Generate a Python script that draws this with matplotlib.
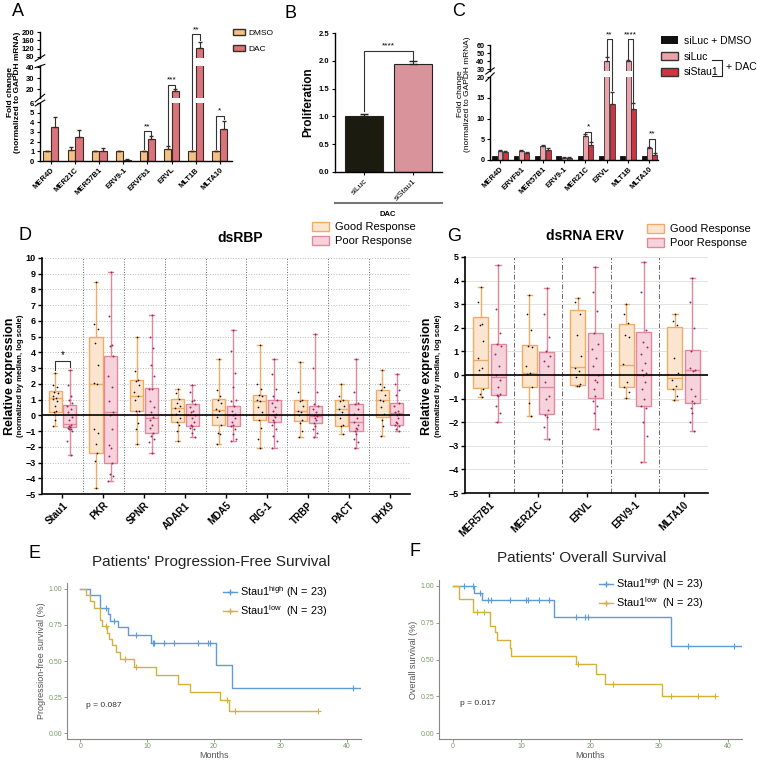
import numpy as np
import matplotlib
matplotlib.use("Agg")
import matplotlib.pyplot as plt
from matplotlib.patches import Patch
from matplotlib.lines import Line2D

plt.rcParams['font.family'] = ['Liberation Sans', 'DejaVu Sans']

# ---------------- data ----------------
# A
a_cats = ['MER4D', 'MER21C', 'MER57B1', 'ERV9-1', 'ERVFb1', 'ERVL', 'MLT1B', 'MLTA10']
a_dmso = [1.0, 1.1, 1.0, 1.0, 1.0, 1.2, 1.0, 1.0]
a_dmso_err = [0.08, 0.3, 0.08, 0.08, 0.05, 0.35, 0.08, 0.05]
a_dac = [3.5, 2.45, 1.05, 0.15, 2.3, 18, 125, 3.35]
a_dac_err = [1.1, 0.8, 0.25, 0.03, 0.25, 2, 25, 0.8]

# B
b_groups = ['siLuc', 'siStau1']
b_vals = [1.0, 1.95]
b_err = [0.04, 0.04]

# C
c_cats = ['MER4D', 'ERVFb1', 'MER57B1', 'ERV9-1', 'MER21C', 'ERVL', 'MLT1B', 'MLTA10']
c_dmso = [1, 1, 1, 1, 1, 1, 1, 1]
c_siluc = [2.2, 2.2, 3.3, 0.6, 5.8, 40, 40, 2.9]
c_siluc_err = [0.25, 0.15, 0.2, 0.05, 0.4, 5, 1, 0.3]
c_sistau = [1.9, 1.6, 2.3, 0.6, 3.5, 13.5, 12.3, 1.3]
c_sistau_err = [0.3, 0.3, 0.5, 0.1, 0.9, 3, 1.5, 0.3]

# D  (whislo, q1, med, q3, whishi)
d_cats = ['Stau1', 'PKR', 'SPNR', 'ADAR1', 'MDA5', 'RIG-1', 'TRBP', 'PACT', 'DHX9']
d_good = [(-0.7, 0.2, 1.1, 1.55, 2.7), (-4.6, -2.4, 2.0, 5.0, 8.5), (-1.85, 0.25, 1.2, 2.25, 5.0),
          (-1.6, -0.4, 0.45, 1.05, 1.7), (-1.8, -0.6, 0.35, 1.05, 3.6), (-2.1, -0.3, 0.9, 1.3, 4.5),
          (-1.35, -0.35, 0.3, 0.95, 3.4), (-1.2, -0.65, 0.4, 1.0, 2.0), (-1.3, -0.1, 1.0, 1.6, 2.9)]
d_poor = [(-2.5, -0.75, -0.55, 0.65, 2.85), (-4.2, -3.05, 0.2, 3.75, 9.1), (-2.4, -1.1, -0.2, 1.75, 6.4),
          (-1.4, -0.7, 0.05, 0.75, 1.95), (-1.65, -0.7, 0.05, 0.6, 5.4), (-2.1, -0.4, 0.0, 1.0, 3.6),
          (-1.35, -0.5, -0.05, 0.6, 5.2), (-2.1, -1.0, -0.4, 0.75, 3.55), (-1.0, -0.6, 0.15, 0.8, 2.65)]
d_good_pts = [
    [2.7, 1.95, 1.8, 1.5, 1.4, 1.2, 1.1, 1.05, 0.9, 0.6, 0.3, 0.2, -0.3, -0.7],
    [8.5, 5.8, 5.5, 4.6, 3.2, 2.05, 2.0, -0.9, -1.1, -1.8, -2.4, -2.9, -4.6],
    [5.0, 2.8, 2.25, 2.2, 1.9, 1.5, 1.2, 1.0, 0.3, 0.25, -0.5, -0.9, -1.85],
    [1.7, 1.4, 1.05, 0.8, 0.6, 0.45, 0.3, 0.1, -0.2, -0.4, -0.6, -1.0, -1.6],
    [3.6, 1.6, 1.2, 1.0, 0.8, 0.4, 0.3, -0.1, -0.6, -1.1, -1.2, -1.8],
    [4.5, 2.0, 1.7, 1.3, 1.2, 1.0, 0.9, 0.5, 0.2, -0.3, -0.8, -1.5, -2.1],
    [3.4, 1.5, 1.0, 0.9, 0.6, 0.3, 0.2, 0.0, -0.3, -0.5, -1.0, -1.35],
    [2.0, 1.2, 1.0, 0.9, 0.6, 0.4, 0.2, -0.2, -0.6, -0.7, -1.2],
    [2.9, 2.0, 1.8, 1.6, 1.3, 1.0, 0.9, 0.5, 0.1, -0.3, -0.7, -1.3]]
d_poor_pts = [
    [2.85, 1.9, 1.2, 1.0, 0.8, 0.6, 0.4, 0.2, -0.1, -0.3, -0.6, -0.7, -0.75, -0.8, -0.85, -0.9, -1.0, -1.6, -2.5],
    [9.1, 6.3, 4.5, 4.4, 3.8, 2.5, 1.8, 0.9, 0.2, 0.0, -0.9, -1.9, -2.1, -2.6, -3.0, -3.7, -3.85, -4.2],
    [6.4, 5.0, 4.3, 3.2, 2.5, 1.7, 1.65, 0.9, 0.5, 0.2, -0.1, -0.3, -0.6, -0.8, -1.1, -1.3, -1.5, -1.7, -2.4],
    [1.95, 1.5, 1.0, 0.9, 0.7, 0.5, 0.3, 0.2, 0.0, -0.2, -0.4, -0.6, -0.7, -0.8, -0.9, -1.1, -1.4],
    [5.4, 4.1, 2.7, 1.8, 1.0, 0.9, 0.6, 0.3, 0.1, 0.0, -0.2, -0.4, -0.6, -0.7, -0.9, -1.2, -1.5, -1.65],
    [3.6, 2.6, 1.7, 1.2, 1.0, 0.8, 0.5, 0.3, 0.1, 0.0, -0.1, -0.3, -0.4, -0.6, -0.9, -1.3, -1.6, -2.1],
    [5.2, 3.0, 1.5, 0.7, 0.6, 0.4, 0.2, 0.0, -0.05, -0.2, -0.3, -0.5, -0.7, -0.9, -1.1, -1.35],
    [3.55, 1.5, 0.8, 0.7, 0.4, 0.1, -0.2, -0.4, -0.6, -0.8, -0.9, -1.0, -1.2, -1.5, -1.7, -2.1],
    [2.65, 2.0, 1.6, 1.3, 0.8, 0.6, 0.3, 0.2, 0.1, 0.0, -0.2, -0.4, -0.5, -0.6, -0.7, -0.9, -1.0]]

# G
g_cats = ['MER57B1', 'MER21C', 'ERVL', 'ERV9-1', 'MLTA10']
g_good = [(-0.92, -0.55, 0.62, 2.45, 3.75), (-1.72, -0.5, 0.1, 1.27, 3.4), (-0.47, -0.42, 0.35, 2.74, 3.27),
          (-0.97, -0.5, 0.42, 2.17, 3.0), (-1.06, -0.6, -0.13, 2.05, 2.58)]
g_poor = [(-2.0, -0.85, -0.1, 1.3, 4.65), (-2.7, -1.67, -0.5, 0.96, 3.7), (-2.3, -0.96, 0.0, 1.8, 4.56),
          (-3.69, -1.31, 0.0, 1.84, 4.77), (-2.36, -1.17, 0.2, 1.05, 4.1)]
g_good_pts = [
    [3.75, 3.1, 2.15, 2.1, 1.45, 0.7, 0.3, 0.2, -0.6, -0.8, -0.92],
    [3.4, 2.6, 1.9, 1.25, 1.2, 0.4, 0.1, 0.05, -0.5, -1.2, -1.72],
    [3.27, 3.1, 2.6, 1.7, 0.8, 0.3, 0.15, -0.1, -0.4, -0.45, -0.47],
    [3.0, 2.6, 2.2, 1.7, 1.6, 0.45, -0.3, -0.5, -0.7, -0.97],
    [2.58, 2.3, 2.1, 0.7, 0.1, -0.2, -0.45, -0.6, -0.9, -1.06]]
g_poor_pts = [
    [4.65, 2.8, 1.8, 1.3, 1.25, 0.9, 0.4, 0.0, -0.2, -0.5, -0.8, -0.85, -0.9, -1.3, -1.6, -2.0],
    [3.7, 2.6, 1.6, 1.0, 0.8, 0.6, 0.4, -0.3, -0.9, -1.0, -1.5, -1.7, -1.8, -2.2, -2.7],
    [4.56, 3.5, 2.7, 1.8, 1.3, 1.1, 0.7, 0.4, 0.0, -0.2, -0.3, -0.6, -0.9, -1.1, -1.3, -1.6, -2.3],
    [4.77, 3.5, 1.9, 1.4, 1.2, 0.9, 0.5, 0.2, 0.1, 0.0, -0.3, -0.6, -1.0, -1.3, -1.4, -2.0, -2.6, -3.69],
    [4.1, 3.1, 2.0, 1.0, 0.2, 0.3, 0.15, -0.6, -0.9, -1.1, -1.2, -1.4, -1.6, -2.0, -2.36]]

# E  (Kaplan-Meier steps)
e_hi_t = [0, 1.5, 2.9, 4.1, 4.5, 5.6, 7.2, 10.6, 20.4, 22.8]
e_hi_s = [1.0, 0.957, 0.87, 0.826, 0.78, 0.733, 0.68, 0.628, 0.472, 0.316]
e_hi_cens = [3.8, 5.1, 8.3, 10.9, 11.1, 12.6, 14.0, 17.7, 19.1, 19.5, 40.9]
e_hi_end = 42.1
e_lo_t = [0, 0.9, 1.4, 2.0, 3.0, 3.3, 4.0, 4.3, 4.7, 5.3, 6.0, 8.0, 11.3, 14.7, 16.5, 21.0, 22.3]
e_lo_s = [1.0, 0.957, 0.913, 0.87, 0.783, 0.739, 0.696, 0.652, 0.609, 0.565, 0.511, 0.459, 0.402,
          0.344, 0.287, 0.23, 0.155]
e_lo_cens = [3.8, 6.7, 8.3, 22.0, 23.2, 35.7]
e_lo_end = 35.7

# F
f_hi_t = [0, 3.1, 4.3, 14.8, 31.8]
f_hi_s = [1.0, 0.955, 0.905, 0.79, 0.595]
f_hi_cens = [1.6, 3.0, 4.0, 5.1, 5.5, 8.4, 10.6, 11.0, 12.6, 14.0, 17.9, 19.2, 19.7, 34.3, 40.9]
f_hi_end = 42.1
f_lo_t = [0, 0.9, 3.0, 5.4, 6.1, 6.5, 8.3, 8.5, 18.0, 20.8, 22.1, 30.4]
f_lo_s = [1.0, 0.913, 0.826, 0.73, 0.69, 0.63, 0.575, 0.525, 0.467, 0.40, 0.336, 0.25]
f_lo_cens = [3.6, 4.6, 18.3, 23.3, 31.7, 35.7, 38.1]
f_lo_end = 38.1

# ---------------- figure helpers ----------------
W, H = 757, 763
fig = plt.figure(figsize=(W / 100, H / 100), dpi=100)


def pax(x0, y0, x1, y1):
    return fig.add_axes([x0 / W, 1 - y1 / H, (x1 - x0) / W, (y1 - y0) / H])


def ftext(x, y, s, **kw):
    fig.text(x / W, 1 - y / H, s, **kw)


def fline(xs, ys, **kw):
    fig.add_artist(Line2D([x / W for x in xs], [1 - y / H for y in ys], transform=fig.transFigure, **kw))


def fpt(ax, x, y):
    return fig.transFigure.inverted().transform(ax.transData.transform((x, y)))


def bracket(pts, label, fs=6, dy=1.0):
    xy = np.array([fpt(a, x, y) for a, x, y in pts])
    fig.add_artist(Line2D(xy[:, 0], xy[:, 1], transform=fig.transFigure, color='#333333', lw=0.8))
    fig.text(xy[1:3, 0].mean(), xy[1, 1] + dy / H, label, ha='center', va='bottom', fontsize=fs)


def clean(ax, bottom=True):
    ax.spines['top'].set_visible(False)
    ax.spines['right'].set_visible(False)
    ax.spines['bottom'].set_visible(bottom)
    for s in ['left', 'bottom']:
        ax.spines[s].set_linewidth(1.0)
    ax.tick_params(length=2.5, width=0.8, pad=1.5)


def brk(ax, where):
    y = 0 if where == 'bottom' else 1
    ax.plot([-0.025, 0.025], [y - 0.05 if where == 'top' else y - 0.12, y + 0.05 if where == 'top' else y + 0.12],
            transform=ax.transAxes, color='black', lw=0.8, clip_on=False)


# ---------------- panel A ----------------
c_dmso_col, c_dac_col, edge = '#f3c184', '#d9747d', '#3a2b22'
xa = np.arange(len(a_cats))
segA = [pax(40, 103, 232, 161), pax(40, 66, 232, 98), pax(40, 32, 232, 58)]
limsA = [(0, 6), (12, 41), (75, 200)]
ticksA = [range(0, 7), [20, 30, 40], [80, 120, 160, 200]]
for i, (ax, lim, tk) in enumerate(zip(segA, limsA, ticksA)):
    ax.bar(xa - 0.16, a_dmso, 0.3, color=c_dmso_col, edgecolor=edge, lw=0.8)
    ax.bar(xa + 0.16, a_dac, 0.3, color=c_dac_col, edgecolor=edge, lw=0.8)
    ax.errorbar(xa - 0.16, a_dmso, yerr=[np.zeros(8), a_dmso_err], fmt='none', ecolor=edge, elinewidth=0.8, capsize=1.5)
    ax.errorbar(xa + 0.16, a_dac, yerr=[np.zeros(8), a_dac_err], fmt='none', ecolor=edge, elinewidth=0.8, capsize=1.5)
    ax.set_xlim(-0.45, 7.5)
    ax.set_ylim(lim)
    ax.set_yticks(list(tk))
    clean(ax, bottom=(i == 0))
    for lab in ax.get_yticklabels():
        lab.set_fontsize(5.5)
        lab.set_fontweight('bold')
    if i == 0:
        ax.set_xticks(xa)
        ax.set_xticklabels(a_cats, rotation=45, ha='right', rotation_mode='anchor', fontsize=5.5, fontweight='bold')
        brk(ax, 'top')
    else:
        ax.set_xticks([])
        brk(ax, 'bottom')
        if i == 1:
            brk(ax, 'top')
ftext(14, 92, 'Fold change\n(normalized to GAPDH mRNA)', rotation=90, ha='center', va='center',
      fontsize=6, fontweight='bold', linespacing=1.1)
a0, a1, a2 = segA
bracket([(a0, 3.84, 1.2), (a0, 3.84, 3.1), (a0, 4.16, 3.1), (a0, 4.16, 2.7)], '**')
bracket([(a0, 4.84, 1.7), (a1, 4.84, 24), (a1, 5.16, 24), (a1, 5.16, 21)], '***')
bracket([(a0, 5.84, 1.2), (a2, 5.84, 190), (a2, 6.16, 190), (a2, 6.16, 160)], '**')
bracket([(a0, 6.84, 1.2), (a0, 6.84, 4.7), (a0, 7.16, 4.7), (a0, 7.16, 4.3)], '*')
fig.legend([Patch(facecolor=c_dmso_col, edgecolor=edge), Patch(facecolor=c_dac_col, edgecolor=edge)],
           ['DMSO', 'DAC'], loc='upper left', bbox_to_anchor=(233 / W, 1 - 29 / H), frameon=False,
           fontsize=6, handlelength=1.4, handleheight=0.8, labelspacing=0.9, borderpad=0, borderaxespad=0,
           handletextpad=0.5)

# ---------------- panel B ----------------
axB = pax(335, 33, 442, 172)
xb = np.arange(2)
axB.bar(xb, b_vals, 0.78, color=['#1c1b10', '#d9939a'], edgecolor='#222222', lw=0.8)
axB.errorbar(xb, b_vals, yerr=[np.zeros(2), b_err], fmt='none', ecolor='#222222', elinewidth=0.8, capsize=3)
axB.set_xlim(-0.59, 1.59)
axB.set_ylim(0, 2.5)
axB.set_yticks(np.arange(0, 2.51, 0.5))
axB.set_yticklabels(['%.1f' % v for v in np.arange(0, 2.51, 0.5)], fontsize=5.5, fontweight='bold')
axB.set_xticks(xb)
axB.set_xticklabels(b_groups, rotation=45, ha='right', rotation_mode='anchor', fontsize=6)
axB.set_ylabel('Proliferation', fontsize=8.5, fontweight='bold', labelpad=3)
clean(axB)
bracket([(axB, 0, 1.1), (axB, 0, 2.18), (axB, 1, 2.18), (axB, 1, 2.02)], '****', fs=6)
fline([335, 442], [203, 203], color='#777777', lw=1.5)
ftext(388, 214, 'DAC', ha='center', va='center', fontsize=5.5, fontweight='bold')

# ---------------- panel C ----------------
col_blk, col_pink, col_red = '#111111', '#eba2aa', '#cf3441'
xc = np.arange(len(c_cats))
segC = [pax(490, 77, 658, 160), pax(490, 45, 658, 71)]
limsC = [(0, 20), (27.5, 60)]
ticksC = [[0, 5, 10, 15, 20], [30, 40, 50, 60]]
for i, (ax, lim, tk) in enumerate(zip(segC, limsC, ticksC)):
    ax.bar(xc - 0.25, c_dmso, 0.23, color=col_blk, edgecolor='#111111', lw=0.6)
    ax.bar(xc, c_siluc, 0.23, color=col_pink, edgecolor='#333333', lw=0.6)
    ax.bar(xc + 0.25, c_sistau, 0.23, color=col_red, edgecolor='#333333', lw=0.6)
    ax.errorbar(xc, c_siluc, yerr=[np.zeros(8), c_siluc_err], fmt='none', ecolor='#333333', elinewidth=0.7, capsize=1.2)
    ax.errorbar(xc + 0.25, c_sistau, yerr=[np.zeros(8), c_sistau_err], fmt='none', ecolor='#333333', elinewidth=0.7, capsize=1.2)
    ax.set_xlim(-0.47, 7.4)
    ax.set_ylim(lim)
    ax.set_yticks(tk)
    clean(ax, bottom=(i == 0))
    for lab in ax.get_yticklabels():
        lab.set_fontsize(5.2)
        lab.set_fontweight('bold')
    if i == 0:
        ax.set_xticks(xc)
        ax.set_xticklabels(c_cats, rotation=45, ha='right', rotation_mode='anchor', fontsize=5.5, fontweight='bold')
        brk(ax, 'top')
    else:
        ax.set_xticks([])
        brk(ax, 'bottom')
ftext(464, 94, 'Fold change\n(normalized to GAPDH mRNA)', rotation=90, ha='center', va='center',
      fontsize=6, linespacing=1.1)
c0, c1 = segC
bracket([(c0, 4.0, 6.3), (c0, 4.0, 6.8), (c0, 4.25, 6.8), (c0, 4.25, 4.6)], '*')
bracket([(c1, 5.0, 46), (c1, 5.0, 67), (c1, 5.25, 67), (c0, 5.25, 16.8)], '**')
bracket([(c1, 6.0, 42), (c1, 6.0, 67), (c1, 6.25, 67), (c0, 6.25, 14.0)], '****')
bracket([(c0, 7.0, 3.3), (c0, 7.0, 5.1), (c0, 7.25, 5.1), (c0, 7.25, 1.8)], '**')
fig.legend([Patch(facecolor=col_blk), Patch(facecolor=col_pink, edgecolor='#333333'),
            Patch(facecolor=col_red, edgecolor='#333333')],
           ['siLuc + DMSO', 'siLuc', 'siStau1'], loc='upper left', bbox_to_anchor=(661 / W, 1 - 36 / H),
           frameon=False, fontsize=7.5, handlelength=1.6, handleheight=0.8, labelspacing=0.55,
           borderpad=0, borderaxespad=0, handletextpad=0.6)
fline([712, 722, 722, 712], [60, 60, 76, 76], color='#222222', lw=0.8)
ftext(726, 67, '+ DAC', ha='left', va='center', fontsize=7.5)

# ---------------- panels D & G ----------------
good_face, good_edge = '#fbe5cf', '#f0ac62'
poor_face, poor_edge = '#f6d3dc', '#e0899c'
jit = np.array([0, -0.05, 0.04, -0.02, 0.06, -0.06, 0.02, -0.04, 0.05, -0.01, 0.03, -0.03])


def stats(rows):
    return [dict(whislo=r[0], q1=r[1], med=r[2], q3=r[3], whishi=r[4], fliers=[]) for r in rows]


def boxpanel(ax, good, poor, gpts, ppts, off, wid, sep_style):
    n = len(good)
    pos = np.arange(n)
    for st, p, fc, ec in [(good, pos - off, good_face, good_edge), (poor, pos + off, poor_face, poor_edge)]:
        ax.bxp(stats(st), positions=p, widths=wid, patch_artist=True, showfliers=False, manage_ticks=False,
               capwidths=wid * 0.35,
               boxprops=dict(facecolor=fc, edgecolor=ec, lw=1.0),
               whiskerprops=dict(color=ec, lw=1.0), capprops=dict(color=ec, lw=1.0),
               medianprops=dict(color=ec, lw=1.0))
    for i in range(n):
        g = np.array(gpts[i])
        pp = np.array(ppts[i])
        ax.scatter(i - off + np.resize(jit, len(g)), g, s=1.5, color='#111111', zorder=3, lw=0)
        ax.scatter(i + off + np.resize(jit, len(pp)), pp, s=2.0, color='#a0285e', zorder=3, lw=0)
    for b in np.arange(0.5, n, 1.0):
        ax.axvline(b, color='#666666', lw=0.7, ls=sep_style, zorder=0)
    ax.axhline(0, color='black', lw=1.2, zorder=4)
    ax.set_xlim(-0.5, n - 0.5)
    ax.spines['top'].set_visible(False)
    ax.spines['right'].set_visible(False)
    for s in ['left', 'bottom']:
        ax.spines[s].set_linewidth(1.2)
    ax.tick_params(length=3, width=1, pad=1.5)


axD = pax(42, 258, 410, 494)
boxpanel(axD, d_good, d_poor, d_good_pts, d_poor_pts, 0.18, 0.32, ':')
axD.set_ylim(-5, 10)
axD.set_yticks(range(-5, 11))
axD.yaxis.grid(True, ls=':', color='#bbbbbb', lw=0.7)
axD.set_axisbelow(True)
axD.set_xticks(range(len(d_cats)))
axD.set_xticklabels(d_cats, rotation=45, ha='right', rotation_mode='anchor', fontsize=7, fontweight='bold')
for lab in axD.get_yticklabels():
    lab.set_fontsize(6.5)
    lab.set_fontweight('bold')
ftext(10, 376, 'Relative expression', rotation=90, ha='center', va='center', fontsize=9, fontweight='bold')
ftext(21, 376, '(normalized by median, log scale)', rotation=90, ha='center', va='center', fontsize=5.5,
      fontweight='bold')
ftext(240, 238, 'dsRBP', ha='center', va='center', fontsize=10, fontweight='bold')
bracket([(axD, -0.18, 2.9), (axD, -0.18, 3.45), (axD, 0.18, 3.45), (axD, 0.18, 3.1)], '*', fs=7)
fig.legend([Patch(facecolor=good_face, edgecolor=good_edge), Patch(facecolor=poor_face, edgecolor=poor_edge)],
           ['Good Response', 'Poor Response'], loc='upper left', bbox_to_anchor=(312 / W, 1 - 222 / H),
           frameon=False, fontsize=8, handlelength=1.5, handleheight=0.9, labelspacing=0.3,
           borderpad=0, borderaxespad=0, handletextpad=0.6)

axG = pax(465, 257, 708, 493)
boxpanel(axG, g_good, g_poor, g_good_pts, g_poor_pts, 0.18, 0.31, (0, (5, 2, 1, 2)))
axG.set_ylim(-5, 5)
axG.set_yticks(range(-5, 6))
axG.yaxis.grid(True, ls='-', color='#e3e3e3', lw=0.7)
axG.set_axisbelow(True)
axG.set_xticks(range(len(g_cats)))
axG.set_xticklabels(g_cats, rotation=45, ha='right', rotation_mode='anchor', fontsize=7, fontweight='bold')
for lab in axG.get_yticklabels():
    lab.set_fontsize(6.5)
    lab.set_fontweight('bold')
ftext(427, 376, 'Relative expression', rotation=90, ha='center', va='center', fontsize=9, fontweight='bold')
ftext(439, 376, '(normalized by median, log scale)', rotation=90, ha='center', va='center', fontsize=5.5,
      fontweight='bold')
ftext(585, 236, 'dsRNA ERV', ha='center', va='center', fontsize=10, fontweight='bold')
fig.legend([Patch(facecolor=good_face, edgecolor=good_edge), Patch(facecolor=poor_face, edgecolor=poor_edge)],
           ['Good Response', 'Poor Response'], loc='upper left', bbox_to_anchor=(647 / W, 1 - 224 / H),
           frameon=False, fontsize=8, handlelength=1.5, handleheight=0.9, labelspacing=0.3,
           borderpad=0, borderaxespad=0, handletextpad=0.6)

# ---------------- panels E & F ----------------
blue, gold = '#5d9cd6', '#d4b13a'
tick_green = '#779c66'


def km(ax, t, s, end, cens, color):
    tt = list(t) + [end]
    ss = list(s) + [s[-1]]
    ax.step(tt, ss, where='post', color=color, lw=1.0)
    idx = np.searchsorted(t, cens, side='right') - 1
    ax.plot(cens, np.array(s)[idx], '+', color=color, ms=4, mew=0.8, ls='none')


def km_axes(ax, ylabel):
    ax.set_xlim(-2, 42.1)
    ax.set_ylim(-0.04, 1.04)
    ax.set_xticks([0, 10, 20, 30, 40])
    ax.set_yticks([0, 0.25, 0.5, 0.75, 1.0])
    ax.set_yticklabels(['0.00', '0.25', '0.50', '0.75', '1.00'])
    ax.tick_params(labelsize=5, labelcolor=tick_green, color='#888888', length=2, width=0.6, pad=1.2)
    for s in ['top', 'right']:
        ax.spines[s].set_visible(False)
    for s in ['left', 'bottom']:
        ax.spines[s].set_color('#888888')
        ax.spines[s].set_linewidth(0.8)
    ax.set_xlabel('Months', fontsize=6.5, color='#555555', labelpad=0.5)
    ax.set_ylabel(ylabel, fontsize=6.5, color='#555555', labelpad=2)


km_handles = [Line2D([], [], color=blue, marker='+', ms=4, lw=1.0),
              Line2D([], [], color=gold, marker='+', ms=4, lw=1.0)]
km_labels = ['Stau1$^{\\mathregular{high}}$ (N = 23)', 'Stau1$^{\\mathregular{low}}$  (N = 23)']

axE = pax(67, 583, 361, 739)
km(axE, e_hi_t, e_hi_s, e_hi_end, e_hi_cens, blue)
km(axE, e_lo_t, e_lo_s, e_lo_end, e_lo_cens, gold)
km_axes(axE, 'Progression-free survival (%)')
axE.text(0.9, 0.19, 'p = 0.087', fontsize=6, va='center', color='#333333')
ftext(211, 562, "Patients' Progression-Free Survival", ha='center', va='center', fontsize=11, color='#222222')
fig.legend(km_handles, km_labels, loc='upper left', bbox_to_anchor=(223 / W, 1 - 584 / H), frameon=False,
           fontsize=7.8, handlelength=1.3, labelspacing=0.3, borderpad=0, borderaxespad=0, handletextpad=0.3)

axF = pax(439, 580, 742, 739)
km(axF, f_hi_t, f_hi_s, f_hi_end, f_hi_cens, blue)
km(axF, f_lo_t, f_lo_s, f_lo_end, f_lo_cens, gold)
km_axes(axF, 'Overall survival (%)')
axF.text(1.0, 0.2, 'p = 0.017', fontsize=6, va='center', color='#333333')
ftext(582, 558, "Patients' Overall Survival", ha='center', va='center', fontsize=11, color='#222222')
fig.legend(km_handles, km_labels, loc='upper left', bbox_to_anchor=(599 / W, 1 - 576 / H), frameon=False,
           fontsize=7.8, handlelength=1.3, labelspacing=0.3, borderpad=0, borderaxespad=0, handletextpad=0.3)

# ---------------- panel letters ----------------
for lab, x, y in [('A', 12, 12), ('B', 285, 13), ('C', 452, 12), ('D', 18, 235), ('G', 447, 236),
                  ('E', 28, 554), ('F', 410, 551)]:
    ftext(x, y, lab, fontsize=13, ha='left', va='center')

fig.savefig('out.png', dpi=100)
